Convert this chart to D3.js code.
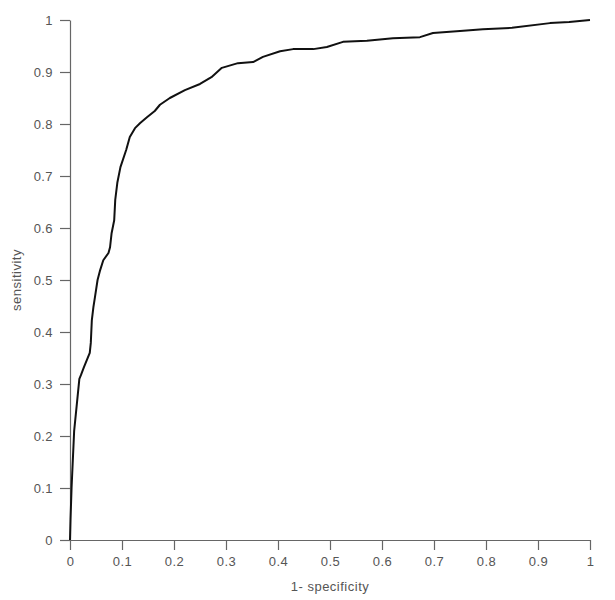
<!DOCTYPE html>
<html>
<head>
<meta charset="utf-8">
<script src="https://cdn.jsdelivr.net/npm/d3@7"></script>
<style>
  body { margin: 0; background: #fff; }
  svg text { font-family: "Liberation Sans", Arial, sans-serif; }
</style>
</head>
<body>
<svg id="roc"></svg>
<script>
  // ROC curve
  const fpr = [0, 0.001, 0.003, 0.008, 0.018, 0.021, 0.027, 0.038, 0.04, 0.042, 0.045, 0.048,
    0.053, 0.058, 0.064, 0.074, 0.077, 0.08, 0.085, 0.087, 0.091, 0.097, 0.108, 0.115, 0.125,
    0.135, 0.148, 0.163, 0.173, 0.192, 0.221, 0.25, 0.272, 0.292, 0.323, 0.352, 0.371, 0.404,
    0.429, 0.468, 0.494, 0.525, 0.571, 0.621, 0.673, 0.698, 0.75, 0.794, 0.85, 0.923, 0.96, 1];
  const tpr = [0, 0.04, 0.1, 0.21, 0.31, 0.317, 0.333, 0.36, 0.379, 0.423, 0.448, 0.467,
    0.5, 0.519, 0.538, 0.552, 0.563, 0.59, 0.615, 0.654, 0.687, 0.717, 0.75, 0.775, 0.792,
    0.802, 0.813, 0.825, 0.837, 0.85, 0.865, 0.877, 0.89, 0.908, 0.917, 0.919, 0.929, 0.94,
    0.944, 0.944, 0.948, 0.958, 0.96, 0.965, 0.967, 0.975, 0.979, 0.982, 0.985, 0.994, 0.996, 1];
  const xTicks = [0, 0.1, 0.2, 0.3, 0.4, 0.5, 0.6, 0.7, 0.8, 0.9, 1];
  const yTicks = [0, 0.1, 0.2, 0.3, 0.4, 0.5, 0.6, 0.7, 0.8, 0.9, 1];

  const width = 615, height = 600;
  const svg = d3.select("#roc").attr("width", width).attr("height", height);

  const x = d3.scaleLinear().domain([0, 1]).range([70, 590]);
  const y = d3.scaleLinear().domain([0, 1]).range([540, 20]);

  const fmt = d => d === 0 || d === 1 ? String(d) : d.toFixed(1);

  const xAxis = svg.append("g")
    .attr("transform", "translate(0,540)")
    .call(d3.axisBottom(x).tickValues(xTicks).tickFormat(fmt).tickSize(10).tickPadding(7).tickSizeOuter(0));
  const yAxis = svg.append("g")
    .attr("transform", "translate(70,0)")
    .call(d3.axisLeft(y).tickValues(yTicks).tickFormat(fmt).tickSize(10).tickPadding(7).tickSizeOuter(0));

  [xAxis, yAxis].forEach(g => {
    g.select(".domain").attr("stroke", "#666").attr("stroke-width", 1.2);
    g.selectAll(".tick line").attr("stroke", "#666").attr("stroke-width", 1.2);
    g.selectAll(".tick text").attr("fill", "#555")
      .style("font-size", "13px").style("letter-spacing", "0.4px");
  });

  // curve
  const line = d3.line().x(d => x(d[0])).y(d => y(d[1]));
  svg.append("path")
    .datum(d3.zip(fpr, tpr))
    .attr("d", line)
    .attr("fill", "none")
    .attr("stroke", "#111")
    .attr("stroke-width", 2)
    .attr("stroke-linejoin", "round");

  // axis titles
  svg.append("text")
    .attr("x", 330).attr("y", 591)
    .attr("text-anchor", "middle")
    .attr("fill", "#555")
    .style("font-size", "13px").style("letter-spacing", "0.5px")
    .text("1- specificity");
  svg.append("text")
    .attr("transform", "translate(21,280) rotate(-90)")
    .attr("text-anchor", "middle")
    .attr("fill", "#555")
    .style("font-size", "13px").style("letter-spacing", "0.5px")
    .text("sensitivity");
</script>
</body>
</html>
